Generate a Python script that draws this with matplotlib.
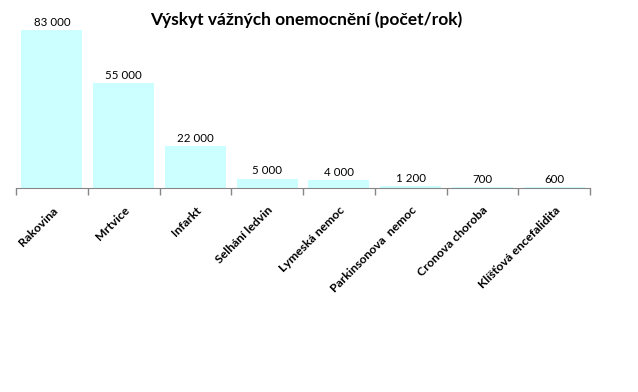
import matplotlib
matplotlib.use("Agg")
import matplotlib.pyplot as plt
import numpy as np

# Data
kategorie = ["Rakovina", "Mrtvice", "Infarkt", "Selhání ledvin", "Lymeská nemoc",
             "Parkinsonova  nemoc", "Cronova choroba", "Klíšťová encefalidita"]
hodnoty = [83000, 55000, 22000, 5000, 4000, 1200, 700, 600]
popisky = ["83 000", "55 000", "22 000", "5 000", "4 000", "1 200", "700", "600"]

plt.rcParams["font.family"] = ["Lato", "DejaVu Sans"]

fig = plt.figure(figsize=(6.38, 3.92), dpi=100)
ax = fig.add_axes([16 / 638, (392 - 188) / 392, (590 - 16) / 638, (188 - 17) / 392])

x = np.arange(len(kategorie))
ax.bar(x, hodnoty, width=0.85, color="#CCFFFF", zorder=2)

for xi, v, t in zip(x, hodnoty, popisky):
    ax.annotate(t, (xi, v), xytext=(0, 1.5), textcoords="offset points",
                ha="center", va="bottom", fontsize=8.3, color="black")

ax.set_xlim(-0.5, len(kategorie) - 0.5)
ax.set_ylim(0, 90000)

# kategorie osy - ticky na hranicich
ax.set_xticks(np.arange(-0.5, len(kategorie)), minor=False)
ax.set_xticklabels([])
ax.tick_params(axis="x", length=5, color="#868686", width=1, direction="out")
ax.set_xticks(x, minor=True)
ax.set_xticklabels(kategorie, minor=True, rotation=45, ha="right",
                   rotation_mode="anchor", fontsize=8.8, fontweight="bold")
ax.tick_params(axis="x", which="minor", length=0, pad=12)

ax.set_yticks([])
for s in ["top", "right", "left"]:
    ax.spines[s].set_visible(False)
ax.spines["bottom"].set_color("#868686")

fig.text(306 / 638, 1 - 20 / 392, "Výskyt vážných onemocnění (počet/rok)",
         ha="center", va="center", fontsize=12.5, fontweight="bold")

fig.savefig("out.png", dpi=100)
